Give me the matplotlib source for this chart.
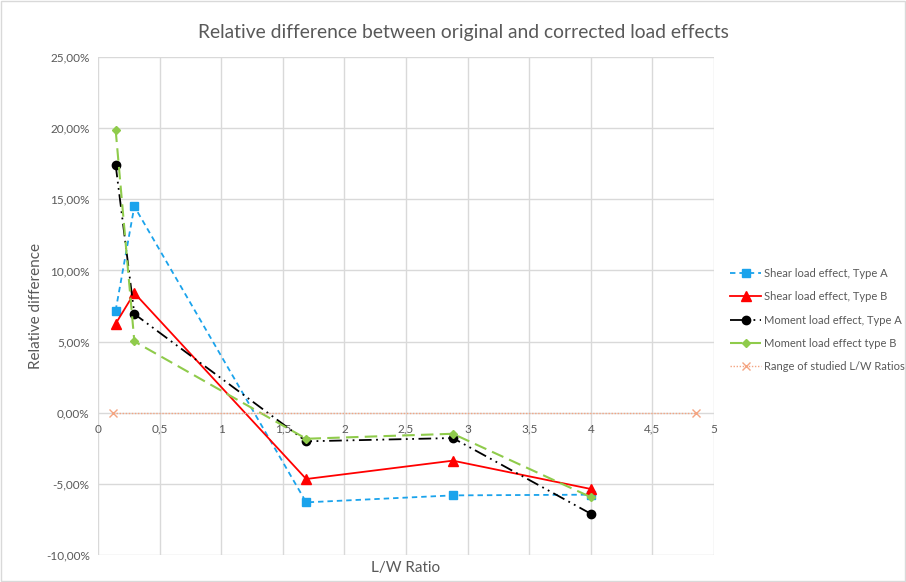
import matplotlib
matplotlib.use("Agg")
import matplotlib.pyplot as plt
from matplotlib.ticker import FuncFormatter, MultipleLocator
from matplotlib.patches import Rectangle

plt.rcParams['font.family'] = ['Lato', 'DejaVu Sans']

# L/W ratios of the studied cases
lw_ratio = [0.143, 0.295, 1.69, 2.88, 4.0]

# relative differences in percent
shear_a = [7.17, 14.50, -6.30, -5.81, -5.76]
shear_b = [6.25, 8.41, -4.66, -3.37, -5.36]
moment_a = [17.43, 6.94, -2.01, -1.78, -7.10]
moment_b = [19.90, 5.01, -1.83, -1.48, -5.93]

range_x = [0.12, 4.85]
range_y = [0.0, 0.0]

labels = [
    "Shear load effect, Type A",
    "Shear load effect, Type B",
    "Moment load effect, Type A",
    "Moment load effect type B",
    "Range of studied L/W Ratios",
]

fig = plt.figure(figsize=(9.06, 5.82), dpi=100)
ax = fig.add_axes([98 / 906, 27 / 582, 616 / 906, 498 / 582])

ax.plot(lw_ratio, shear_a, color='#1AA3EC', lw=1.3, ls=(0, (3, 2.2)),
        marker='s', ms=6, label=labels[0])
ax.plot(lw_ratio, shear_b, color='#FF0000', lw=1.3, ls='-',
        marker='^', ms=6.5, label=labels[1])
ax.plot(lw_ratio, moment_a, color='#000000', lw=1.3,
        ls=(0, (7, 2.5, 1, 2.5, 1, 2.5)), marker='o', ms=6, label=labels[2])
ax.plot(lw_ratio, moment_b, color='#8FCB4B', lw=1.5, ls=(0, (6, 3)),
        marker='D', ms=4.5, label=labels[3])
ax.plot(range_x, range_y, color='#F4A582', lw=1.0, ls=(0, (1, 1.2)),
        marker='x', ms=6, mew=1.0, label=labels[4])

ax.set_xlim(0, 5)
ax.set_ylim(-10, 25)
ax.xaxis.set_major_locator(MultipleLocator(0.5))
ax.yaxis.set_major_locator(MultipleLocator(5))


def comma_num(v, pos):
    return ('%g' % v).replace('.', ',')


def comma_pct(v, pos):
    return ('%.2f%%' % v).replace('.', ',')


ax.xaxis.set_major_formatter(FuncFormatter(comma_num))
ax.yaxis.set_major_formatter(FuncFormatter(comma_pct))

ax.grid(True, color='#D9D9D9', lw=1.0)
ax.set_axisbelow(True)
for side in ['top', 'right', 'left']:
    ax.spines[side].set_visible(False)
ax.spines['bottom'].set_position(('data', 0))
ax.spines['bottom'].set_visible(False)
ax.tick_params(length=0, labelsize=8.5, colors='#595959', pad=6)
ax.tick_params(axis='x', pad=8)

ax.set_xlabel("L/W Ratio", fontsize=11, color='#595959')
ax.xaxis.set_label_coords(0.5, -0.012)
ax.set_ylabel("Relative difference", fontsize=11, color='#595959', labelpad=2)

fig.text(463 / 906, 0.945, "Relative difference between original and corrected load effects",
         ha='center', va='center', fontsize=13.9, color='#595959')

leg = fig.legend(loc='center left', bbox_to_anchor=(730 / 906, 1 - 320 / 582),
                 frameon=False, borderpad=0, borderaxespad=0,
                 fontsize=8, handlelength=2.8, labelspacing=1.1,
                 handletextpad=0.25, labelcolor='#595959')

fig.patches.append(Rectangle((0.001, 0.001), 0.998, 0.998, transform=fig.transFigure,
                             fill=False, edgecolor='#D9D9D9', lw=1))

fig.savefig("out.png", dpi=100)
